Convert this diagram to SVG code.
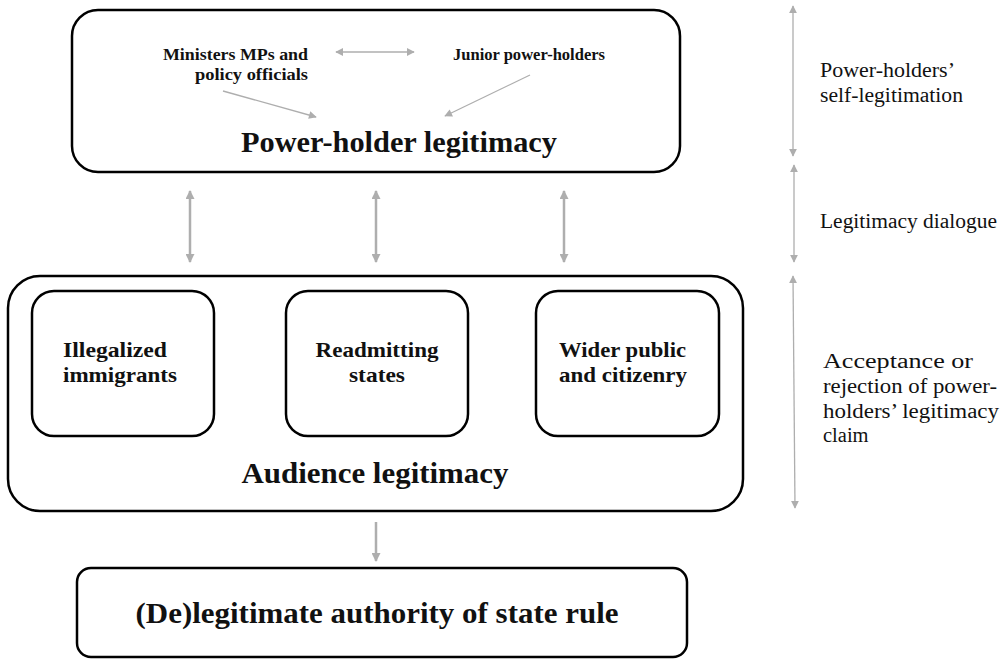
<svg xmlns="http://www.w3.org/2000/svg" width="1007" height="661" viewBox="0 0 1007 661">
<defs>
<marker id="ah" viewBox="0 0 10 10" refX="9" refY="5" markerWidth="4" markerHeight="3.6" orient="auto-start-reverse" markerUnits="strokeWidth">
<path d="M0,0 L10,5 L0,10 z" fill="#aeaeae"/>
</marker>
<marker id="ahs" viewBox="0 0 10 10" refX="9" refY="5" markerWidth="7" markerHeight="6" orient="auto-start-reverse" markerUnits="strokeWidth">
<path d="M0,0 L10,5 L0,10 z" fill="#aeaeae"/>
</marker>
<style>
.box{fill:#fff;stroke:#000;stroke-width:2.5}
.t{font-family:"Liberation Serif","Times New Roman",serif;fill:#111}
.big{font-size:30px;font-weight:bold}
.med{font-size:21px;font-weight:bold}
.sm{font-size:16px;font-weight:bold}
.side{font-size:20.5px}
.ar{stroke:#aeaeae;stroke-width:2.5;fill:none}
.ars{stroke:#aeaeae;stroke-width:1.3;fill:none}
</style>
</defs>
<g id="power-holder">
<rect class="box" x="72" y="10" width="608" height="162" rx="26"/>
<text class="t sm" x="308" y="60" text-anchor="end" textLength="145" lengthAdjust="spacingAndGlyphs">Ministers MPs and</text>
<text class="t sm" x="308" y="80" text-anchor="end" textLength="113" lengthAdjust="spacingAndGlyphs">policy officials</text>
<text class="t sm" x="453" y="60" textLength="152" lengthAdjust="spacingAndGlyphs">Junior power-holders</text>
<text class="t big" x="399" y="152" text-anchor="middle" textLength="316" lengthAdjust="spacingAndGlyphs">Power-holder legitimacy</text>
</g>
<g id="audience">
<rect class="box" x="8" y="276" width="735" height="235" rx="32"/>
<text class="t big" x="375" y="483" text-anchor="middle" textLength="267" lengthAdjust="spacingAndGlyphs">Audience legitimacy</text>
</g>
<g id="immigrants">
<rect class="box" x="32" y="291" width="182" height="145" rx="22"/>
<text class="t med" x="63" y="357" textLength="104" lengthAdjust="spacingAndGlyphs">Illegalized</text>
<text class="t med" x="63" y="382" textLength="114" lengthAdjust="spacingAndGlyphs">immigrants</text>
</g>
<g id="states">
<rect class="box" x="286" y="291" width="182" height="145" rx="22"/>
<text class="t med" x="377" y="357" text-anchor="middle" textLength="123" lengthAdjust="spacingAndGlyphs">Readmitting</text>
<text class="t med" x="377" y="382" text-anchor="middle" textLength="56" lengthAdjust="spacingAndGlyphs">states</text>
</g>
<g id="public">
<rect class="box" x="536" y="291" width="183" height="145" rx="22"/>
<text class="t med" x="559" y="357" textLength="127" lengthAdjust="spacingAndGlyphs">Wider public</text>
<text class="t med" x="559" y="382" textLength="128" lengthAdjust="spacingAndGlyphs">and citizenry</text>
</g>
<g id="authority">
<rect class="box" x="77" y="568" width="610" height="89" rx="14"/>
<text class="t big" x="377" y="623" text-anchor="middle" textLength="483" lengthAdjust="spacingAndGlyphs">(De)legitimate authority of state rule</text>
</g>
<g id="side-labels">
<text class="t side" x="820" y="77" textLength="135" lengthAdjust="spacingAndGlyphs">Power-holders’</text>
<text class="t side" x="820" y="102" textLength="143" lengthAdjust="spacingAndGlyphs">self-legitimation</text>
<text class="t side" x="820" y="228" textLength="177" lengthAdjust="spacingAndGlyphs">Legitimacy dialogue</text>
<text class="t side" x="823" y="368" textLength="150" lengthAdjust="spacingAndGlyphs">Acceptance or</text>
<text class="t side" x="823" y="393" textLength="174" lengthAdjust="spacingAndGlyphs">rejection of power-</text>
<text class="t side" x="823" y="418" textLength="176" lengthAdjust="spacingAndGlyphs">holders’ legitimacy</text>
<text class="t side" x="823" y="442">claim</text>
</g>
<g id="connectors">
<line class="ars" x1="336" y1="52" x2="414" y2="52" marker-start="url(#ahs)" marker-end="url(#ahs)"/>
<line class="ars" x1="223" y1="91" x2="316" y2="117" marker-end="url(#ahs)"/>
<line class="ars" x1="530" y1="75" x2="445" y2="116" marker-end="url(#ahs)"/>
<line class="ar" x1="190" y1="191" x2="190" y2="262" marker-start="url(#ah)" marker-end="url(#ah)"/>
<line class="ar" x1="376" y1="191" x2="376" y2="262" marker-start="url(#ah)" marker-end="url(#ah)"/>
<line class="ar" x1="564" y1="191" x2="564" y2="262" marker-start="url(#ah)" marker-end="url(#ah)"/>
<line class="ar" x1="376" y1="522" x2="376" y2="561" marker-end="url(#ah)"/>
<line class="ars" x1="793" y1="6" x2="793" y2="156" marker-start="url(#ahs)" marker-end="url(#ahs)"/>
<line class="ars" x1="794" y1="165" x2="794" y2="262" marker-start="url(#ahs)" marker-end="url(#ahs)"/>
<line class="ars" x1="793" y1="276" x2="795" y2="508" marker-start="url(#ahs)" marker-end="url(#ahs)"/>
</g>
</svg>
